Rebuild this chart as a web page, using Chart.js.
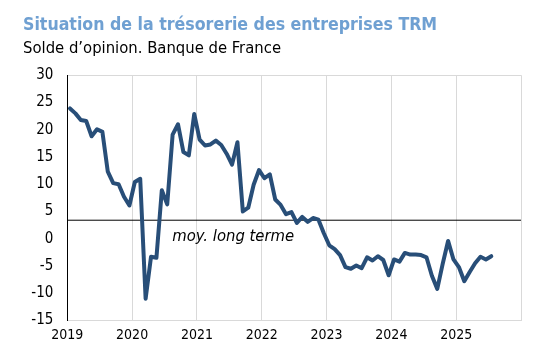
<!DOCTYPE html>
<html><head><meta charset="utf-8">
<script src="https://cdn.jsdelivr.net/npm/chart.js@4/dist/chart.umd.min.js"></script>
<style>html,body{margin:0;padding:0;background:#fff}canvas{display:block}</style>
</head><body>
<canvas id="c" width="546" height="357"></canvas>
<script>
const chartTitle = 'Situation de la trésorerie des entreprises TRM';
const chartSubtitle = 'Solde d’opinion. Banque de France';
const startYear = 2019;
const endYear = 2026;
const yearLabels = ['2019', '2020', '2021', '2022', '2023', '2024', '2025'];
// Monthly values, January 2019 to July 2025
const values = [
  23.9, 23.0, 21.8, 21.6, 18.8, 20.1, 19.6, 12.3, 10.2, 10.0, 7.7, 6.1,
  10.4, 11.0, -11.0, -3.3, -3.5, 8.9, 6.3, 19.1, 21.0, 15.9, 15.3, 22.9,
  18.2, 17.1, 17.3, 18.0, 17.2, 15.6, 13.6, 17.7, 5.0, 5.7, 9.9, 12.6,
  11.1, 11.8, 7.2, 6.2, 4.5, 4.9, 2.9, 4.0, 3.1, 3.8, 3.5, 1.0,
  -1.2, -1.9, -3.0, -5.2, -5.5, -4.9, -5.4, -3.4, -4.0, -3.2, -3.9, -6.7,
  -3.8, -4.2, -2.6, -2.9, -2.9, -3.0, -3.4, -6.8, -9.2, -4.6, -0.4, -3.8,
  -5.2, -7.8, -6.1, -4.5, -3.3, -3.8, -3.2
];
const longTermAverage = 3.4;
const averageLabel = 'moy. long terme';

const FONT = "'DejaVu Sans Condensed', 'DejaVu Sans', sans-serif";

const seriesPoints = values.map((v, i) => ({ x: startYear + (i + 0.5) / 12, y: v }));
const averagePoints = [{ x: startYear, y: longTermAverage }, { x: endYear, y: longTermAverage }];

const avgLabelPlugin = {
  id: 'avgLabel',
  afterDatasetsDraw(chart) {
    const { ctx, scales: { x, y } } = chart;
    ctx.save();
    ctx.font = 'italic 16.5px ' + FONT;
    ctx.fillStyle = '#000';
    ctx.textAlign = 'left';
    ctx.textBaseline = 'alphabetic';
    ctx.fillText(averageLabel, x.getPixelForValue(2020.62), y.getPixelForValue(longTermAverage) + 21);
    ctx.restore();
  }
};

new Chart(document.getElementById('c'), {
  type: 'line',
  data: {
    datasets: [
      { label: 'TRM', data: seriesPoints, borderColor: '#284e78', borderWidth: 4, pointRadius: 0,
        borderJoinStyle: 'round', borderCapStyle: 'round', tension: 0 },
      { label: averageLabel, data: averagePoints, borderColor: '#000', borderWidth: 1, pointRadius: 0 }
    ]
  },
  options: {
    responsive: false,
    animation: false,
    layout: { padding: { left: 23, right: 25, top: 0, bottom: 0 } },
    plugins: {
      legend: { display: false },
      tooltip: { enabled: false },
      title: { display: true, text: chartTitle, align: 'start', color: '#6fa0d2',
        font: { family: FONT, size: 17.6, weight: 'bold' }, padding: { top: 14.8, bottom: 2 } },
      subtitle: { display: true, text: chartSubtitle, align: 'start', color: '#000',
        font: { family: FONT, size: 16.5 }, padding: { top: 1.0, bottom: 16.5 } }
    },
    scales: {
      x: {
        type: 'linear', min: startYear, max: endYear,
        ticks: { stepSize: 1, color: '#000', font: { family: FONT, size: 14 }, padding: 6,
          maxRotation: 0, autoSkip: false,
          callback: (v) => yearLabels[v - startYear] ?? '' },
        grid: { drawTicks: false, lineWidth: 1,
          color: (c) => (c.tick && c.tick.value === startYear) ? 'rgba(0,0,0,0)' : '#d9d9d9' },
        border: { color: '#d9d9d9' },
        afterFit(s) { s.height = 36.5; }
      },
      y: {
        min: -15, max: 30,
        ticks: { stepSize: 5, color: '#000', font: { family: FONT, size: 15 }, padding: 14 },
        grid: { drawTicks: false,
          color: (c) => (c.tick && c.tick.value === 30) ? '#d9d9d9' : 'rgba(0,0,0,0)' },
        border: { color: '#000', width: 1 },
        afterFit(s) { s.width = 44.3; }
      }
    }
  },
  plugins: [avgLabelPlugin]
});
</script>
</body></html>
